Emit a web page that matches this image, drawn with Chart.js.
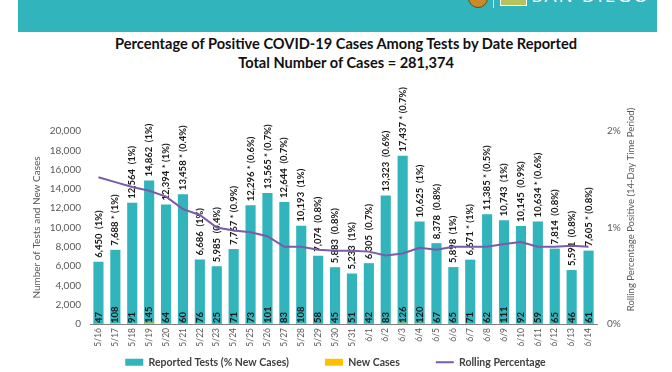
<!DOCTYPE html>
<html>
<head>
<meta charset="utf-8">
<script src="https://cdn.jsdelivr.net/npm/chart.js@4.4.0/dist/chart.umd.min.js"></script>
<style>
  html, body { margin: 0; padding: 0; background: #fff; }
  #wrap { position: relative; width: 672px; height: 372px; overflow: hidden; }
  #band { position: absolute; left: 18px; top: 0; width: 639px; height: 32px; background: #31b4bc; }
  #seal { position: absolute; left: 468px; top: -12px; width: 18px; height: 18px; border-radius: 50%; background: #c98a2c; border: 1px solid #6b4a1a; }
  #divider { position: absolute; left: 493px; top: 0; width: 1px; height: 8px; background: #dff3f4; }
  #flag { position: absolute; left: 500px; top: -4px; width: 25px; height: 8px; background: #b6c25a; border: 1px solid #fff; }
  #brand { position: absolute; left: 532px; top: -18px; color: #fff; font: 19px 'Open Sans', sans-serif; letter-spacing: 2px; }
  .ttl { position: absolute; left: 0; width: 692px; text-align: center; font-family: Lato, 'Open Sans', sans-serif; font-weight: bold; font-size: 14.6px; color: #111; }
  #t1 { top: 35px; }
  #t2 { top: 54px; }
  #c { position: absolute; left: 0; top: 0; }
</style>
</head>
<body>
<div id="wrap">
  <div id="band"></div>
  <div id="seal"></div>
  <div id="divider"></div>
  <div id="flag"></div>
  <div id="brand">SAN DIEGO</div>
  <div class="ttl" id="t1">Percentage of Positive COVID-19 Cases Among Tests by Date Reported</div>
  <div class="ttl" id="t2">Total Number of Cases = 281,374</div>
  <canvas id="c" width="672" height="372"></canvas>
</div>
<script>
// dates reported
const dates = ['5/16','5/17','5/18','5/19','5/20','5/21','5/22','5/23','5/24','5/25',
  '5/26','5/27','5/28','5/29','5/30','5/31','6/1','6/2','6/3','6/4',
  '6/5','6/6','6/7','6/8','6/9','6/10','6/11','6/12','6/13','6/14'];

const reportedTests = [6450, 7688, 12564, 14862, 12394, 13458, 6686, 5985, 7767, 12296,
  13565, 12644, 10193, 7074, 5883, 5233, 6305, 13323, 17437, 10625,
  8378, 5898, 6671, 11385, 10743, 10145, 10634, 7814, 5591, 7605];

// % new cases shown in the label, and the asterisk flag
const pctNewCases = ['1%','1%','1%','1%','1%','0.4%','1%','0.4%','0.9%','0.6%',
  '0.7%','0.7%','1%','0.8%','0.8%','1%','0.7%','0.6%','0.7%','1%',
  '0.8%','1%','1%','0.5%','1%','0.9%','0.6%','0.8%','0.8%','0.8%'];
const starred = [false, true, false, false, true, true, false, false, true, true,
  true, false, false, false, false, false, false, false, true, false,
  false, false, true, true, false, false, true, false, false, true];

const newCases = [47, 108, 91, 145, 64, 60, 76, 25, 71, 73,
  101, 83, 108, 58, 45, 51, 42, 83, 126, 120,
  67, 65, 71, 62, 111, 92, 59, 65, 46, 61];

// rolling 14-day percentage positive (right axis, %)
const rollingPct = [1.52, 1.47, 1.42, 1.38, 1.32, 1.19, 1.13, 1.00, 0.97, 0.95,
  0.91, 0.80, 0.80, 0.77, 0.76, 0.76, 0.75, 0.71, 0.73, 0.79,
  0.77, 0.80, 0.80, 0.80, 0.83, 0.85, 0.80, 0.80, 0.81, 0.80];

const FONT = "Lato, 'Open Sans', sans-serif";
Chart.defaults.font.family = FONT;
Chart.defaults.color = '#595959';

const barLabels = {
  id: 'barLabels',
  afterLayout(chart) {
    // legend padding gives the wide gaps between items; pull the row back up and left
    chart.legend.top -= 25;
    chart.legend.left -= 16;
    chart.legend.right -= 16;
  },
  afterDatasetDraw(chart, args) {
    if (args.index !== 1) return;
    const ctx = chart.ctx;
    const tests = chart.getDatasetMeta(0).data;
    const base = chart.scales.y.getPixelForValue(0);
    ctx.save();
    ctx.fillStyle = '#1a1a1a';
    ctx.textAlign = 'left';
    ctx.textBaseline = 'middle';
    tests.forEach((bar, i) => {
      const txt = reportedTests[i].toLocaleString('en-US') + (starred[i] ? ' * ' : '  ') + '(' + pctNewCases[i] + ')';
      ctx.save();
      ctx.translate(bar.x, bar.y - 4);
      ctx.rotate(-Math.PI / 2);
      ctx.font = 'bold 9.5px ' + FONT;
      ctx.fillText(txt, 0, 0);
      ctx.restore();
      ctx.save();
      ctx.translate(bar.x, base - 1);
      ctx.rotate(-Math.PI / 2);
      ctx.font = 'bold 9.5px ' + FONT;
      ctx.fillText(String(newCases[i]), 0, 0);
      ctx.restore();
    });
    ctx.restore();
  },
  afterDraw(chart) {
    // right axis title, reading bottom to top like the left one
    const ctx = chart.ctx;
    const a = chart.chartArea;
    ctx.save();
    ctx.translate(a.right + 34, (a.top + a.bottom) / 2 - 18);
    ctx.rotate(-Math.PI / 2);
    ctx.font = '9.5px ' + FONT;
    ctx.fillStyle = '#595959';
    ctx.textAlign = 'center';
    ctx.textBaseline = 'middle';
    ctx.fillText('Rolling Percentage Positive (14-Day Time Period)', 0, 0);
    ctx.restore();
  }
};

new Chart(document.getElementById('c'), {
  type: 'bar',
  data: {
    labels: dates,
    datasets: [
      {
        label: 'Reported Tests (% New Cases)',
        data: reportedTests,
        backgroundColor: '#31b4bc',
        barPercentage: 0.6,
        categoryPercentage: 1,
        yAxisID: 'y',
        order: 2,
        pointStyle: 'rect'
      },
      {
        label: 'New Cases',
        data: newCases,
        backgroundColor: '#ffc000',
        barPercentage: 0.6,
        categoryPercentage: 1,
        yAxisID: 'y',
        order: 1,
        pointStyle: 'rect'
      },
      {
        type: 'line',
        label: 'Rolling Percentage',
        data: rollingPct,
        borderColor: '#7b5ba8',
        backgroundColor: '#7b5ba8',
        borderWidth: 2,
        pointRadius: 0,
        tension: 0,
        yAxisID: 'y1',
        order: 0,
        pointStyle: 'line'
      }
    ]
  },
  options: {
    responsive: false,
    animation: false,
    layout: { padding: { left: 31, right: 0, top: 131, bottom: -30.5 } },
    plugins: {
      legend: {
        position: 'bottom',
        labels: {
          usePointStyle: true,
          pointStyleWidth: 18,
          boxHeight: 7,
          padding: 36,
          color: '#404040',
          font: { size: 10.5, weight: 'bold' },
          sort: (a, b) => a.datasetIndex - b.datasetIndex
        }
      },
      tooltip: { enabled: false },
      title: { display: false }
    },
    scales: {
      x: {
        stacked: true,
        grid: { display: false, drawTicks: false },
        border: { color: '#7f7f7f', width: 1 },
        ticks: { minRotation: 90, maxRotation: 90, autoSkip: false, font: { size: 8.5 }, padding: 4 },
        afterFit(s) { s.height = 22; }
      },
      y: {
        min: 0, max: 20000,
        grid: { display: false, drawTicks: false },
        border: { display: false },
        ticks: { stepSize: 2000, padding: 9, font: { size: 10 },
          callback: v => v.toLocaleString('en-US') },
        title: { display: true, text: 'Number of Tests and New Cases', font: { size: 10 }, padding: 0 },
        afterFit(s) { s.width = 59; }
      },
      y1: {
        position: 'right',
        min: 0, max: 2,
        grid: { display: false, drawTicks: false },
        border: { display: false },
        ticks: { stepSize: 1, padding: 10, font: { size: 10 }, callback: v => v + '%' },
        afterFit(s) { s.width = 75; }
      }
    }
  },
  plugins: [barLabels]
});
</script>
</body>
</html>
